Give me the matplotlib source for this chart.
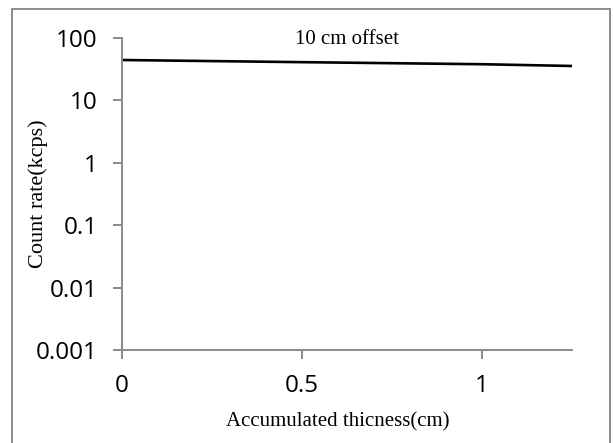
import matplotlib
matplotlib.use("Agg")
import matplotlib.pyplot as plt
from matplotlib.patches import Rectangle

# Data
thickness_cm = [0.0, 0.5, 1.0, 1.25]
count_rate_kcps = [44.4, 41.0, 38.0, 35.6]
y_ticks = [0.001, 0.01, 0.1, 1, 10, 100]
y_tick_labels = ["0.001", "0.01", "0.1", "1", "10", "100"]
x_ticks = [0, 0.5, 1]
x_tick_labels = ["0", "0.5", "1"]
title_text = "10 cm offset"
x_label = "Accumulated thicness(cm)"
y_label = "Count rate(kcps)"

W, H = 613, 443
fig = plt.figure(figsize=(W / 100, H / 100), dpi=100)
ax = fig.add_axes([122 / W, 1 - 350 / H, (572 - 122) / W, (350 - 38) / H])

ax.plot(thickness_cm, count_rate_kcps, color="black", linewidth=1.9)
ax.set_yscale("log")
ax.set_xlim(0, 1.25)
ax.set_ylim(0.001, 100)
ax.set_yticks(y_ticks)
ax.set_yticklabels(y_tick_labels)
ax.minorticks_off()
ax.set_xticks(x_ticks)
ax.set_xticklabels(x_tick_labels)

grey = "#8a8a8a"
for s in ["top", "right"]:
    ax.spines[s].set_visible(False)
for s in ["left", "bottom"]:
    ax.spines[s].set_color(grey)
    ax.spines[s].set_linewidth(1.4)
ax.tick_params(axis="both", direction="out", length=6.5, width=1.4, color=grey,
               labelsize=17.5, labelcolor="black")
ax.tick_params(axis="y", pad=11)
ax.tick_params(axis="x", pad=11)
for lbl in ax.get_xticklabels() + ax.get_yticklabels():
    lbl.set_fontfamily("Open Sans")

ax.text(0.5, 1 - 2 / 312, title_text, transform=ax.transAxes, ha="center", va="center",
        fontsize=15, family="Liberation Serif")

fig.text(338 / W, 1 - 422 / H, x_label, ha="center", va="center",
         fontsize=15, family="Liberation Serif")
fig.text(38 / W, 1 - 194 / H, y_label, ha="center", va="center", rotation=90,
         fontsize=16, family="Liberation Serif")

fig.patches.append(Rectangle((12 / W, -0.02), (610 - 12) / W, 1 - 9 / H + 0.02,
                             transform=fig.transFigure, fill=False,
                             edgecolor="#8c8c8c", linewidth=1.4))

fig.savefig("out.png", dpi=100)
